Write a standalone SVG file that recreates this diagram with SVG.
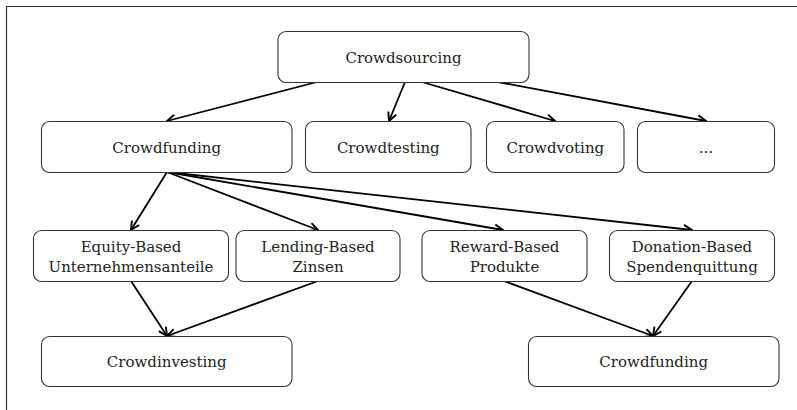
<svg xmlns="http://www.w3.org/2000/svg" width="797" height="410" viewBox="0 0 797 410">
<defs>
<marker id="ah" viewBox="0 0 12 12" refX="11" refY="6" markerWidth="12" markerHeight="12" markerUnits="userSpaceOnUse" orient="auto">
<path d="M2.5,1.8 L11,6 L2.5,10.2" fill="none" stroke="#000" stroke-width="1.9"/>
</marker>
<style>
.box{fill:#fff;stroke:#333;stroke-width:1.1}
.t{font-family:"DejaVu Serif","Liberation Serif",serif;font-size:15px;fill:#222;text-anchor:middle}
.c{stroke:#000;stroke-width:1.8;fill:none;marker-end:url(#ah)}
</style>
</defs>
<rect x="0" y="0" width="797" height="410" fill="#fff"/>
<path d="M6.5,410 V6.5 H797" fill="none" stroke="#333" stroke-width="1.2"/>
<g id="connectors">
<line class="c" x1="317" y1="82" x2="167" y2="121"/>
<line class="c" x1="405" y1="82" x2="389" y2="121"/>
<line class="c" x1="422" y1="82" x2="555" y2="121"/>
<line class="c" x1="498" y1="82" x2="706" y2="121"/>
<line class="c" x1="167" y1="172" x2="131" y2="230"/>
<line class="c" x1="167" y1="172" x2="318" y2="230"/>
<line class="c" x1="167" y1="172" x2="503" y2="230"/>
<line class="c" x1="167" y1="172" x2="692" y2="230"/>
<line class="c" x1="131" y1="281" x2="167" y2="336"/>
<line class="c" x1="318" y1="281" x2="167" y2="336"/>
<line class="c" x1="504" y1="281" x2="653" y2="336"/>
<line class="c" x1="692" y1="281" x2="653" y2="336"/>
</g>
<g id="crowdsourcing"><rect class="box" x="278" y="31.5" width="251" height="51" rx="8"/><text class="t" x="403.5" y="62.5">Crowdsourcing</text></g>
<g id="crowdfunding"><rect class="box" x="41.5" y="121.5" width="250.5" height="51" rx="8"/><text class="t" x="166.7" y="152.5">Crowdfunding</text></g>
<g id="crowdtesting"><rect class="box" x="305.5" y="121.5" width="165.5" height="51" rx="8"/><text class="t" x="388.3" y="152.5">Crowdtesting</text></g>
<g id="crowdvoting"><rect class="box" x="486.5" y="121.5" width="137.5" height="51" rx="8"/><text class="t" x="555.3" y="152.5">Crowdvoting</text></g>
<g id="more"><rect class="box" x="637.5" y="121.5" width="137" height="51" rx="8"/><text class="t" x="706" y="152.5">...</text></g>
<g id="equity"><rect class="box" x="33.5" y="230.5" width="195" height="51" rx="8"/><text class="t" x="131" y="252">Equity-Based</text><text class="t" x="131" y="272">Unternehmensanteile</text></g>
<g id="lending"><rect class="box" x="236" y="230.5" width="164" height="51" rx="8"/><text class="t" x="318" y="252">Lending-Based</text><text class="t" x="318" y="272">Zinsen</text></g>
<g id="reward"><rect class="box" x="422" y="230.5" width="165" height="51" rx="8"/><text class="t" x="504.5" y="252">Reward-Based</text><text class="t" x="504.5" y="272">Produkte</text></g>
<g id="donation"><rect class="box" x="609.5" y="230.5" width="165" height="51" rx="8"/><text class="t" x="692" y="252">Donation-Based</text><text class="t" x="692" y="272">Spendenquittung</text></g>
<g id="crowdinvesting"><rect class="box" x="41.5" y="336.5" width="250.5" height="50" rx="8"/><text class="t" x="166.7" y="367">Crowdinvesting</text></g>
<g id="crowdfunding2"><rect class="box" x="528.5" y="336.5" width="250.5" height="50" rx="8"/><text class="t" x="653.7" y="367">Crowdfunding</text></g>
</svg>
